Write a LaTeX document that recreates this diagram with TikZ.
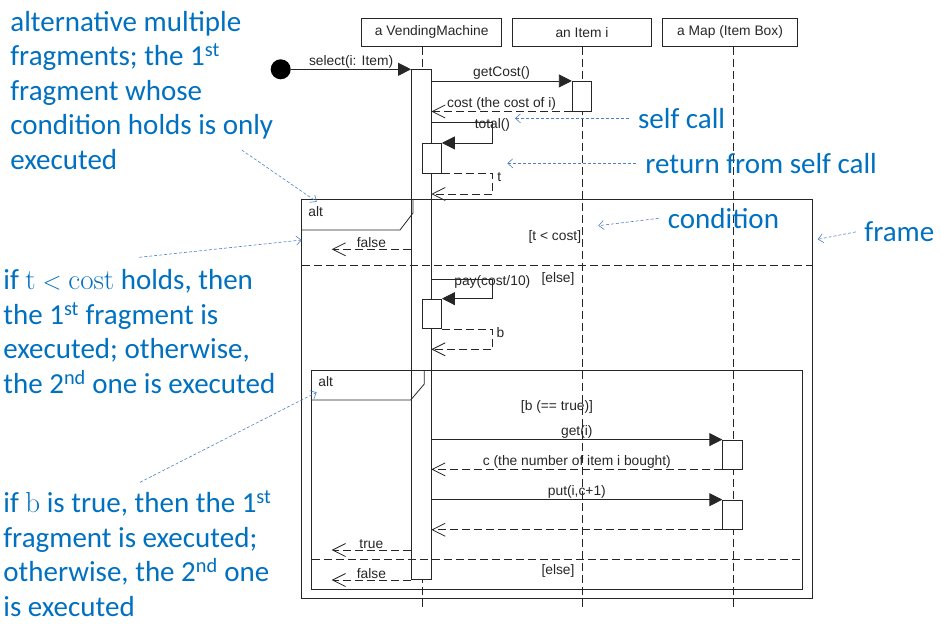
\documentclass[tikz,border=0pt]{standalone}
\usepackage{fontspec}
\newfontfamily\umlfont{Liberation Sans}
\newfontfamily\notefont{Carlito}
\usetikzlibrary{arrows.meta}
\definecolor{umlgray}{HTML}{262626}
\definecolor{noteblue}{HTML}{0070C0}
\definecolor{pointblue}{HTML}{4F7FC6}
\tikzset{
  head/.style={draw=umlgray, minimum height=28pt, inner sep=0pt, text=umlgray,
    font=\umlfont\fontsize{13.8}{16}\selectfont},
  lifeline/.style={draw=umlgray, dash pattern=on 8pt off 4pt},
  act/.style={draw=umlgray, fill=white, minimum width=19.5pt, inner sep=0pt},
  call/.style={draw=umlgray, -{Triangle[length=13pt,width=13pt]}},
  reply/.style={draw=umlgray, dash pattern=on 8pt off 4pt,
    -{Straight Barb[length=13pt,width=13pt]}},
  msg/.style={font=\umlfont\fontsize{13.8}{16}\selectfont, text=umlgray, inner sep=1pt},
  framebox/.style={draw=umlgray},
  divider/.style={draw=umlgray, dash pattern=on 8pt off 4pt},
  note/.style={font=\notefont\fontsize{29}{34.6}\selectfont, text=noteblue,
    inner sep=0pt, align=left},
  pointer/.style={draw=pointblue, line width=0.6pt, dash pattern=on 3pt off 2pt,
    -{Straight Barb[length=5pt,width=9pt]}}
}
\begin{document}
\begin{tikzpicture}[x=1pt, y=-1pt, line width=0.8pt]
\useasboundingbox (0,0) rectangle (941,623);

% lifelines
\node[head, minimum width=140pt]   (vm)   at (431.7,32.4) {a VendingMachine};
\node[head, minimum width=139pt]   (item) at (582,32.4)   {an Item i};
\node[head, minimum width=134.5pt] (map)  at (730,32.4)   {a Map (Item Box)};
\coordinate (vmend)   at (422,610);
\coordinate (itemend) at (582.5,610);
\coordinate (mapend)  at (733,610);
\draw[lifeline] (vmend |- vm.south)     -- (vmend);
\draw[lifeline] (itemend |- item.south) -- (itemend);
\draw[lifeline] (mapend |- map.south)   -- (mapend);

% activations
\node[act, minimum height=510pt]  (vmact)    at (421.2,324.3) {};
\node[act, minimum height=29.7pt] (itemact)  at (582,96.2)    {};
\node[act, minimum height=29.7pt] (totalact) at (431.7,158.2) {};
\node[act, minimum height=29.5pt] (payact)   at (431.8,313.8) {};
\node[act, minimum height=29pt]   (getact)   at (732.5,454.5) {};
\node[act, minimum height=29.3pt] (putact)   at (732.5,514.7) {};

% frames
\draw[framebox] (301.7,199.3) rectangle (812.3,598.7);
\draw[framebox] (301.7,230) -- (400,230) -- (413,213) -- (413,199.3);
\node[msg, anchor=west] (outeralt) at (307,212) {alt};
\draw[divider] (301.7,265) -- (812.3,265);
\node[msg, anchor=east] (guard1) at (582.5,236.7) {[t < cost]};
\node[msg] (else1) at (558,279.3) {[else]};

\draw[framebox] (311.7,370) rectangle (802.3,589);
\draw[framebox] (311.7,400) -- (410.7,400) -- (424.3,384) -- (424.3,370);
\node[msg, anchor=west] (inneralt) at (317,382) {alt};
\draw[divider] (311.7,559.3) -- (802.3,559.3);
\node[msg] (guard2) at (557,406.7) {[b (== true)]};
\node[msg] (else2) at (558,571) {[else]};

% messages
\node[circle, fill=black, minimum size=20pt, inner sep=0pt] (start) at (280.7,69.3) {};
\draw[call] (start) -- node[msg, above] {select(i: Item)} (vmact.west |- start);
\draw[call] (vmact.east |- itemact.north) -- node[msg, above] {getCost()} (itemact.north west);
\draw[reply] (itemact.south west) -- node[msg, above] {cost (the cost of i)} (vmact.east |- itemact.south);

\coordinate (totalturn) at (492.4,122);
\draw[call] (vmact.east |- totalturn) -- (totalturn) |- (totalact.north east);
\node[msg] (totallbl) at ([yshift=-2.5pt]totalturn) {total()};
\coordinate (tturn) at (492.4,194);
\draw[reply] (totalact.south east) -| node[msg, right=3.5pt, pos=0.6] {t} (tturn) -- (vmact.east |- tturn);

\coordinate (falseend1) at (331.7,249.3);
\draw[reply] (vmact.west |- falseend1) -- node[msg, above] {false} (falseend1);

\coordinate (payturn) at (492.3,279.3);
\draw[call] (vmact.east |- payturn) -- (payturn) |- (payact.north east);
\node[msg] (paylbl) at ([yshift=-3pt]payturn) {pay(cost/10)};
\coordinate (bturn) at (492.3,349.3);
\draw[reply] (payact.south east) -| node[msg, right=3pt, pos=0.58] {b} (bturn) -- (vmact.east |- bturn);

\draw[call] (vmact.east |- getact.north) -- node[msg, above] {get(i)} (getact.north west);
\draw[reply] (getact.south west) -- node[msg, above] {c (the number of item i bought)} (vmact.east |- getact.south);
\draw[call] (vmact.east |- putact.north) -- node[msg, above] {put(i,c+1)} (putact.north west);
\draw[reply] (putact.south west) -- (vmact.east |- putact.south);

\coordinate (trueend) at (331.7,550);
\draw[reply] (vmact.west |- trueend) -- node[msg, above] {true} (trueend);
\coordinate (falseend2) at (331.7,580);
\draw[reply] (vmact.west |- falseend2) -- node[msg, above] {false} (falseend2);

% notes
\node[note, anchor=north west] (altnote) at (10,10.5)
  {alternative multiple\\fragments; the 1\textsuperscript{st}\\fragment whose\\condition holds is only\\executed};
\node[note, anchor=north west] (tnote) at (3,269)
  {if $\mathrm{t} < \mathrm{cost}$ holds, then\\the 1\textsuperscript{st} fragment is\\executed; otherwise,\\the 2\textsuperscript{nd} one is executed};
\node[note, anchor=north west] (bnote) at (3,490.5)
  {if $\mathrm{b}$ is true, then the 1\textsuperscript{st}\\fragment is executed;\\otherwise, the 2\textsuperscript{nd} one\\is executed};
\coordinate (alttail) at (241.7,150);
\coordinate (alttip)  at (316.7,201.7);
\coordinate (ttail)   at (139.3,257.3);
\coordinate (ttip)    at (301.7,240);
\coordinate (btail)   at (140,482.3);
\coordinate (btip)    at (316.7,392.3);
\draw[pointer] (alttail) -- (alttip);
\draw[pointer] (ttail) -- (ttip);
\draw[pointer] (btail) -- (btip);

\node[note, anchor=base west, inner xsep=9pt] (selfnote)   at (628.7,128.3) {self call};
\node[note, anchor=base west, inner xsep=9pt] (returnnote) at (636,173.3)   {return from self call};
\node[note, anchor=base west, inner xsep=9pt] (condnote)   at (658.5,228.3) {condition};
\node[note, anchor=base west, inner xsep=8pt] (framenote)  at (856,241.7)   {frame};
\coordinate (selftip)   at (515,119);
\coordinate (returntip) at (507.3,164);
\coordinate (condtip)   at (598.3,225.7);
\coordinate (frametip)  at (817.7,239.3);
\draw[pointer] (selfnote.west) -- (selfnote.west -| selftip);
\draw[pointer] (returnnote.west) -- (returnnote.west -| returntip);
\draw[pointer] (condnote.west) -- (condtip);
\draw[pointer] (framenote.west) -- (frametip);
\end{tikzpicture}
\end{document}
